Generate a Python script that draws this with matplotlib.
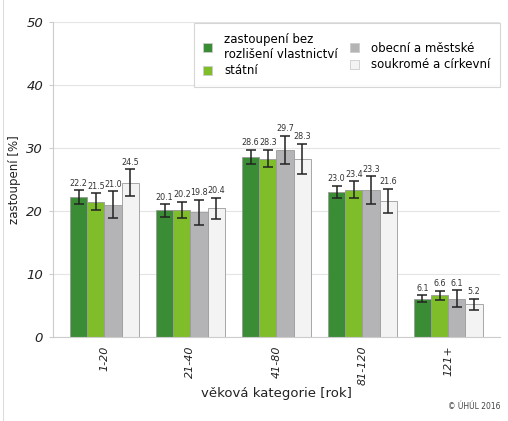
import matplotlib
matplotlib.use("Agg")
import matplotlib.pyplot as plt
import numpy as np
from matplotlib.lines import Line2D

categories = ["1-20", "21-40", "41-80", "81-120", "121+"]
series_names = ["zastoupení bez\nrozlišení vlastnictví", "státní",
                "obecní a městské", "soukromé a církevní"]
v_all = [22.2, 20.1, 28.6, 23.0, 6.1]
v_state = [21.5, 20.2, 28.3, 23.4, 6.6]
v_muni = [21.0, 19.8, 29.7, 23.3, 6.1]
v_priv = [24.5, 20.4, 28.3, 21.6, 5.2]
e_all = [1.1, 1.0, 1.1, 1.0, 0.5]
e_state = [1.3, 1.3, 1.4, 1.3, 0.7]
e_muni = [2.1, 2.0, 2.2, 2.2, 1.3]
e_priv = [2.1, 1.7, 2.4, 1.9, 0.9]
yticks = [0, 10, 20, 30, 40, 50]

values = [v_all, v_state, v_muni, v_priv]
errors = [e_all, e_state, e_muni, e_priv]
colors = ["#3b8d35", "#80bd2b", "#b4b4b6", "#f3f3f3"]

fig = plt.figure(figsize=(5.08, 4.21), dpi=100)
ax = fig.add_axes([0.104, 0.1995, 0.88, 0.7485])

x = np.arange(len(categories))
w = 0.2
for i, (vals, errs, c) in enumerate(zip(values, errors, colors)):
    pos = x + (i - 1.5) * w
    ax.bar(pos, vals, width=w, color=c, edgecolor="#9a9a9a", linewidth=0.6,
           zorder=2, label=series_names[i])
    ax.errorbar(pos, vals, yerr=errs, fmt="none", ecolor="#222222",
                elinewidth=1.1, capsize=3.5, capthick=1.1, zorder=3)
    for p, v, e in zip(pos, vals, errs):
        ax.text(p, v + e + 0.4, f"{v:.1f}", ha="center", va="bottom",
                fontsize=5.8, color="#333333", zorder=4)

ax.set_xlim(-0.6, 4.6)
ax.set_ylim(0, 50)
ax.set_yticks(yticks)
ax.set_yticklabels([str(t) for t in yticks], fontstyle="italic", fontsize=9.5,
                   color="#222222")
ax.set_xticks(x)
ax.set_xticklabels(categories, rotation=90, fontstyle="italic", fontsize=8,
                   color="#222222")
ax.tick_params(axis="x", length=0, pad=6)
ax.tick_params(axis="y", length=3, color="#cccccc", pad=4)
ax.grid(axis="y", color="#e4e4e4", linewidth=0.8, zorder=0)
for s in ["top", "right"]:
    ax.spines[s].set_visible(False)
ax.spines["left"].set_color("#cccccc")
ax.spines["bottom"].set_color("#cccccc")

ax.set_ylabel("zastoupení [%]", fontsize=8.5, color="#222222")
ax.yaxis.set_label_coords(-0.072, 0.5)
ax.set_xlabel("věková kategorie [rok]", fontsize=9.5, color="#222222")
ax.xaxis.set_label_coords(0.5, -0.16)

leg = ax.legend(ncol=2, loc="upper right", bbox_to_anchor=(1.0, 0.995),
                borderaxespad=0.0,
                fontsize=8.5, frameon=True, fancybox=False, edgecolor="#cccccc",
                handlelength=0.8, handleheight=0.8, columnspacing=1.0,
                handletextpad=1.0, borderpad=0.8, labelspacing=0.3)
leg.get_frame().set_linewidth(0.8)
for h in leg.legend_handles:
    h.set_edgecolor("#cccccc")

fig.text(0.985, 0.035, "© ÚHÚL 2016", ha="right", va="center", fontsize=5.5,
         color="#444444")
fig.add_artist(Line2D([0.006, 0.006], [0, 1], transform=fig.transFigure,
                      color="#dddddd", linewidth=0.8))

fig.savefig("out.png", dpi=100)
